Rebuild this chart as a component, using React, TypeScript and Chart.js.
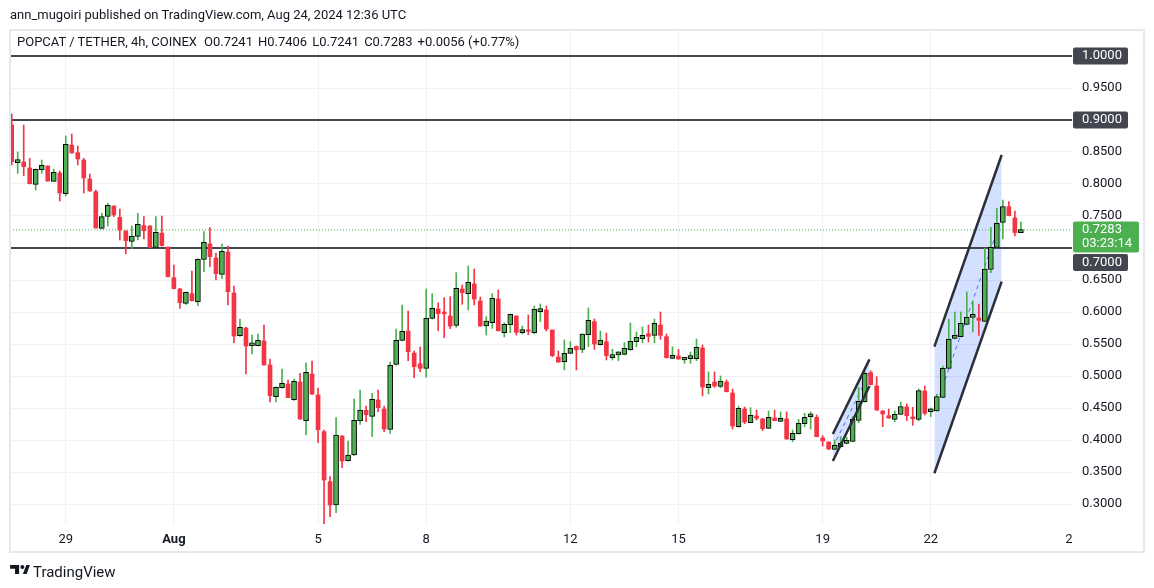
import React, { useEffect, useRef } from 'react';
import { Chart, registerables } from 'chart.js';

Chart.register(...registerables);

const FONT = 'Roboto, "Noto Sans", "Liberation Sans", sans-serif';
const TEXT = '#131722';
const GREEN = '#4caf50';
const RED = '#f23645';
const GRID = '#f0f1f4';
const LEVEL_COLOR = '#434651';

// 4h candles, index 0 = Jul 27 12:00 ... index 168 = Aug 24 12:00
const OPENS = [
  0.8922, 0.8335, 0.8344, 0.8250, 0.7995, 0.8224, 0.8281, 0.8042, 0.8172, 0.7849,
  0.8609, 0.8490, 0.8375, 0.8078, 0.7880, 0.7307, 0.7495, 0.7656, 0.7479, 0.7266,
  0.7104, 0.7182, 0.7350, 0.7344, 0.7010, 0.7234, 0.7016, 0.6536, 0.6360, 0.6135,
  0.6286, 0.6161, 0.6823, 0.7063, 0.6844, 0.6589, 0.6938, 0.6297, 0.5630, 0.5750,
  0.5472, 0.5474, 0.5547, 0.5172, 0.4677, 0.4818, 0.4875, 0.4630, 0.4906, 0.4302,
  0.5031, 0.4703, 0.4130, 0.3349, 0.2984, 0.4063, 0.3677, 0.3766, 0.4297, 0.4464,
  0.4370, 0.4625, 0.4484, 0.4167, 0.5182, 0.5557, 0.5703, 0.5359, 0.5190, 0.5120,
  0.5901, 0.6047, 0.6000, 0.5938, 0.5792, 0.6359, 0.6287, 0.6438, 0.6172, 0.5781,
  0.5833, 0.6203, 0.5677, 0.5802, 0.5938, 0.5677, 0.5720, 0.5677, 0.6005, 0.6031,
  0.5719, 0.5297, 0.5224, 0.5354, 0.5460, 0.5417, 0.5646, 0.5850, 0.5490, 0.5536,
  0.5286, 0.5330, 0.5339, 0.5411, 0.5536, 0.5583, 0.5660, 0.5635, 0.5797, 0.5615,
  0.5276, 0.5313, 0.5250, 0.5271, 0.5271, 0.5438, 0.4818, 0.4906, 0.4839, 0.4906,
  0.4734, 0.4208, 0.4484, 0.4271, 0.4375, 0.4328, 0.4182, 0.4344, 0.4292, 0.4328,
  0.4005, 0.4099, 0.4255, 0.4363, 0.4354, 0.4031, 0.3969, 0.3854, 0.3896, 0.3948,
  0.3979, 0.4307, 0.4599, 0.5052, 0.4844, 0.4453, 0.4380, 0.4323, 0.4401, 0.4516,
  0.4360, 0.4323, 0.4766, 0.4441, 0.4453, 0.4667, 0.5120, 0.5589, 0.5615, 0.5807,
  0.5915, 0.5906, 0.5854, 0.6667, 0.7010, 0.7401, 0.7646, 0.7469, 0.7241,
];
const HIGHS = [
  0.9094, 0.8500, 0.8922, 0.8401, 0.8235, 0.8375, 0.8286, 0.8234, 0.8203, 0.8750,
  0.8781, 0.8594, 0.8401, 0.8156, 0.7906, 0.7542, 0.7698, 0.7660, 0.7609, 0.7270,
  0.7344, 0.7542, 0.7490, 0.7350, 0.7490, 0.7500, 0.7016, 0.6734, 0.6370, 0.6310,
  0.6641, 0.6830, 0.7255, 0.7320, 0.6922, 0.7063, 0.7031, 0.6406, 0.5890, 0.5760,
  0.5640, 0.5656, 0.5797, 0.5266, 0.4830, 0.5110, 0.4937, 0.4953, 0.5042, 0.5203,
  0.5234, 0.4813, 0.4156, 0.3427, 0.4349, 0.4070, 0.3984, 0.4640, 0.4781, 0.4531,
  0.4730, 0.4781, 0.4531, 0.5219, 0.5734, 0.6109, 0.6016, 0.5390, 0.5453, 0.6359,
  0.6286, 0.6146, 0.6224, 0.6240, 0.6615, 0.6422, 0.6720, 0.6672, 0.6234, 0.5927,
  0.6286, 0.6344, 0.5833, 0.5970, 0.5940, 0.5781, 0.5953, 0.6094, 0.6125, 0.6094,
  0.5720, 0.5390, 0.5563, 0.5536, 0.5469, 0.5660, 0.6063, 0.5891, 0.5703, 0.5672,
  0.5417, 0.5380, 0.5520, 0.5828, 0.5688, 0.5766, 0.5797, 0.5891, 0.6000, 0.5656,
  0.5458, 0.5417, 0.5290, 0.5375, 0.5578, 0.5484, 0.5063, 0.5063, 0.5000, 0.4938,
  0.4797, 0.4531, 0.4516, 0.4505, 0.4469, 0.4340, 0.4453, 0.4469, 0.4438, 0.4438,
  0.4156, 0.4323, 0.4417, 0.4438, 0.4391, 0.4068, 0.3970, 0.4000, 0.4052, 0.4042,
  0.4365, 0.4820, 0.5070, 0.5083, 0.4990, 0.4460, 0.4484, 0.4453, 0.4594, 0.4563,
  0.4510, 0.4800, 0.4844, 0.4500, 0.4714, 0.5156, 0.5885, 0.6000, 0.6000, 0.6313,
  0.6172, 0.6125, 0.6995, 0.7323, 0.7620, 0.7750, 0.7724, 0.7578, 0.7406,
];
const LOWS = [
  0.8297, 0.8167, 0.8130, 0.8000, 0.7906, 0.8167, 0.8042, 0.8040, 0.7734, 0.7813,
  0.8484, 0.8297, 0.7859, 0.7885, 0.7310, 0.7300, 0.7344, 0.7490, 0.7125, 0.6906,
  0.6990, 0.7125, 0.7140, 0.7000, 0.7000, 0.7030, 0.6550, 0.6360, 0.6057, 0.6120,
  0.6170, 0.6099, 0.6630, 0.6708, 0.6500, 0.6521, 0.6109, 0.5521, 0.5620, 0.5031,
  0.5344, 0.5470, 0.5170, 0.4594, 0.4594, 0.4810, 0.4660, 0.4620, 0.4320, 0.4078,
  0.4710, 0.3958, 0.2672, 0.2802, 0.2865, 0.3568, 0.3670, 0.3760, 0.4245, 0.4286,
  0.4052, 0.4443, 0.4130, 0.4104, 0.5170, 0.5550, 0.5240, 0.4974, 0.5068, 0.4980,
  0.5890, 0.5708, 0.5599, 0.5740, 0.5760, 0.6120, 0.6031, 0.6110, 0.5780, 0.5641,
  0.5745, 0.5700, 0.5610, 0.5677, 0.5641, 0.5656, 0.5646, 0.5660, 0.5850, 0.5703,
  0.5300, 0.5210, 0.5094, 0.5350, 0.5094, 0.5365, 0.5458, 0.5417, 0.5480, 0.5250,
  0.5250, 0.5240, 0.5330, 0.5400, 0.5458, 0.5520, 0.5531, 0.5520, 0.5573, 0.5280,
  0.5270, 0.5260, 0.5198, 0.5198, 0.5240, 0.4688, 0.4719, 0.4823, 0.4818, 0.4750,
  0.4172, 0.4200, 0.4255, 0.4270, 0.4313, 0.4146, 0.4180, 0.4300, 0.4290, 0.4010,
  0.3974, 0.4090, 0.4208, 0.4172, 0.4050, 0.3906, 0.3850, 0.3850, 0.3890, 0.3940,
  0.3970, 0.4271, 0.4590, 0.4860, 0.4460, 0.4208, 0.4340, 0.4286, 0.4400, 0.4302,
  0.4229, 0.4300, 0.4391, 0.4365, 0.4450, 0.4660, 0.5110, 0.5580, 0.5610, 0.5800,
  0.5688, 0.5635, 0.5850, 0.6615, 0.7000, 0.7141, 0.7500, 0.7188, 0.7241,
];
const CLOSES = [
  0.8349, 0.8340, 0.8271, 0.8005, 0.8229, 0.8292, 0.8047, 0.8182, 0.7859, 0.8620,
  0.8484, 0.8391, 0.8094, 0.7891, 0.7313, 0.7490, 0.7667, 0.7516, 0.7281, 0.7115,
  0.7188, 0.7370, 0.7270, 0.7010, 0.7245, 0.7036, 0.6552, 0.6365, 0.6146, 0.6307,
  0.6177, 0.6823, 0.7089, 0.6865, 0.6600, 0.6948, 0.6318, 0.5625, 0.5760, 0.5469,
  0.5476, 0.5557, 0.5172, 0.4693, 0.4823, 0.4885, 0.4661, 0.4917, 0.4328, 0.5057,
  0.4719, 0.4160, 0.3375, 0.2984, 0.4078, 0.3672, 0.3766, 0.4307, 0.4469, 0.4396,
  0.4636, 0.4505, 0.4172, 0.5167, 0.5557, 0.5698, 0.5380, 0.5146, 0.5120, 0.5901,
  0.6057, 0.5974, 0.5970, 0.5781, 0.6370, 0.6302, 0.6464, 0.6203, 0.5781, 0.5860,
  0.6214, 0.5708, 0.5807, 0.5964, 0.5682, 0.5714, 0.5700, 0.6042, 0.6042, 0.5734,
  0.5318, 0.5219, 0.5354, 0.5432, 0.5410, 0.5656, 0.5870, 0.5500, 0.5563, 0.5318,
  0.5328, 0.5340, 0.5432, 0.5542, 0.5604, 0.5635, 0.5620, 0.5823, 0.5635, 0.5286,
  0.5323, 0.5266, 0.5252, 0.5276, 0.5448, 0.4828, 0.4870, 0.4844, 0.4922, 0.4755,
  0.4219, 0.4495, 0.4281, 0.4385, 0.4339, 0.4177, 0.4354, 0.4302, 0.4339, 0.4016,
  0.4104, 0.4260, 0.4354, 0.4367, 0.4052, 0.3984, 0.3859, 0.3917, 0.3948, 0.3984,
  0.4323, 0.4604, 0.5042, 0.4865, 0.4469, 0.4406, 0.4344, 0.4401, 0.4521, 0.4380,
  0.4333, 0.4771, 0.4417, 0.4445, 0.4677, 0.5120, 0.5573, 0.5615, 0.5823, 0.5917,
  0.5919, 0.5870, 0.6672, 0.7010, 0.7385, 0.7646, 0.7505, 0.7241, 0.7283,
];

// time axis (candle index of each date tick)
const X_TICKS = [9, 27, 51, 69, 93, 111, 135, 153, 176];
const X_LABELS = ['29', 'Aug', '5', '8', '12', '15', '19', '22', '2'];
const X_MIN = -0.283;
const X_MAX = 176.51;

// price axis
const Y_TICKS = [0.3, 0.35, 0.4, 0.45, 0.5, 0.55, 0.6, 0.65, 0.7, 0.75, 0.8, 0.85, 0.9, 0.95, 1.0];
const Y_MIN = 0.26875;
const Y_MAX = 1.0390625;

// horizontal levels drawn on the chart
const LEVELS = [1.0, 0.9, 0.7];
const LAST_PRICE = 0.7283;
const COUNTDOWN = '03:23:14';

// legend values
const LEGEND_TITLE = 'POPCAT / TETHER, 4h, COINEX';
const LEGEND_VALUES = ['O0.7241', 'H0.7406', 'L0.7241', 'C0.7283', '+0.0056 (+0.77%)'];

// parallel channels: [candle index, price]
const SMALL_TOP = [[136.7, 0.4094], [142.8, 0.526]];
const SMALL_BOTTOM = [[136.7, 0.3672], [142.8, 0.4844]];
const SMALL_MID = [[136.7, 0.3883], [142.8, 0.5052]];
const BIG_TOP = [[153.6, 0.5458], [164.8, 0.8453]];
const BIG_BOTTOM = [[153.6, 0.348], [164.8, 0.6474]];
const BIG_MID = [[153.6, 0.4469], [164.8, 0.7464]];

const pts = (arr: number[][]) => arr.map(([x, y]) => ({ x, y }));

const overlayPlugin = {
  id: 'overlay',
  afterDraw(chart: any) {
    const { ctx, chartArea } = chart;
    const y = chart.scales.y;
    const x = chart.scales.x;
    ctx.save();
    // frame
    ctx.strokeStyle = '#e6e8ee';
    ctx.lineWidth = 2;
    ctx.strokeRect(chartArea.left, chartArea.top - 1, y.right - chartArea.left, x.bottom - chartArea.top + 1);

    ctx.font = `13px ${FONT}`;
    ctx.textBaseline = 'middle';
    ctx.textAlign = 'left';
    const bx = chartArea.right + 1;
    const tx = chartArea.right + 10;

    // last price box
    const py = y.getPixelForValue(LAST_PRICE);
    const pTop = py - 8.5;
    const pBot = py + 22.5;
    ctx.fillStyle = GREEN;
    ctx.beginPath();
    ctx.roundRect(bx, pTop, 66, pBot - pTop, 2);
    ctx.fill();
    ctx.fillStyle = '#ffffff';
    ctx.fillText(LAST_PRICE.toFixed(4), tx, py);
    ctx.fillText(COUNTDOWN, tx, py + 14);

    // level boxes
    LEVELS.forEach((v) => {
      const cy = y.getPixelForValue(v);
      let top = cy - 8.5;
      if (top < pBot && top + 17 > pTop) {
        top = cy > py ? pBot + 1.5 : pTop - 18.5;
      }
      ctx.fillStyle = LEVEL_COLOR;
      ctx.beginPath();
      ctx.roundRect(bx, top, 55, 17, 2);
      ctx.fill();
      ctx.fillStyle = '#ffffff';
      ctx.fillText(v.toFixed(4), tx, top + 8.5);
    });
    ctx.restore();
  },
};

export default function App() {
  const ref = useRef<HTMLCanvasElement>(null);

  useEffect(() => {
    const canvas = ref.current;
    if (!canvas) return;
    const idx = OPENS.map((_, i) => i);
    const isUp = (i: number) => CLOSES[i] >= OPENS[i];
    const upIdx = idx.filter(isUp);
    const dnIdx = idx.filter((i) => !isUp(i));
    const wick = (list: number[]) => list.map((i) => ({ x: i, y: [LOWS[i], HIGHS[i]] }));
    const body = (list: number[]) =>
      list.map((i) => ({ x: i, y: [Math.min(OPENS[i], CLOSES[i]), Math.max(OPENS[i], CLOSES[i])] }));

    const hline = (v: number) => [{ x: X_MIN, y: v }, { x: X_MAX, y: v }];
    const lineBase = { type: 'line', pointRadius: 0, tension: 0, fill: false };

    const datasets: any[] = [
      // channel fills
      { ...lineBase, data: pts(SMALL_TOP), borderColor: 'transparent', order: 10 },
      { ...lineBase, data: pts(SMALL_BOTTOM), borderColor: 'transparent', fill: '-1', backgroundColor: 'rgba(41,98,255,0.2)', order: 10 },
      { ...lineBase, data: pts(BIG_TOP), borderColor: 'transparent', order: 10 },
      { ...lineBase, data: pts(BIG_BOTTOM), borderColor: 'transparent', fill: '-1', backgroundColor: 'rgba(41,98,255,0.2)', order: 10 },
      // middle dashed lines
      { ...lineBase, data: pts(SMALL_MID), borderColor: 'rgba(41,98,255,0.85)', borderWidth: 1, borderDash: [4, 4], order: 9 },
      { ...lineBase, data: pts(BIG_MID), borderColor: 'rgba(41,98,255,0.85)', borderWidth: 1, borderDash: [4, 4], order: 9 },
      // levels + last price
      ...LEVELS.map((v) => ({ ...lineBase, data: hline(v), borderColor: LEVEL_COLOR, borderWidth: 2, order: 8 })),
      { ...lineBase, data: hline(LAST_PRICE), borderColor: GREEN, borderWidth: 1, borderDash: [1, 2], order: 8 },
      // candles
      { type: 'bar', data: wick(upIdx), backgroundColor: GREEN, barThickness: 1, grouped: false, order: 5 },
      { type: 'bar', data: wick(dnIdx), backgroundColor: RED, barThickness: 1, grouped: false, order: 5 },
      {
        type: 'bar', data: body(upIdx), backgroundColor: GREEN, borderColor: '#000000', borderWidth: 1,
        borderSkipped: false, barThickness: 5, minBarLength: 3, grouped: false, order: 4,
      },
      { type: 'bar', data: body(dnIdx), backgroundColor: RED, barThickness: 4, minBarLength: 1, grouped: false, order: 4 },
      // channel borders
      { ...lineBase, data: pts(SMALL_TOP), borderColor: '#2a2e39', borderWidth: 2.5, order: 1 },
      { ...lineBase, data: pts(SMALL_BOTTOM), borderColor: '#2a2e39', borderWidth: 2.5, order: 1 },
      { ...lineBase, data: pts(BIG_TOP), borderColor: '#2a2e39', borderWidth: 2.5, order: 1 },
      { ...lineBase, data: pts(BIG_BOTTOM), borderColor: '#2a2e39', borderWidth: 2.5, order: 1 },
    ];

    const chart = new Chart(canvas, {
      type: 'bar',
      data: { datasets },
      options: {
        animation: false,
        responsive: false,
        maintainAspectRatio: false,
        events: [],
        layout: { padding: { left: 10, right: 10, top: 31, bottom: 36 } },
        plugins: { legend: { display: false }, tooltip: { enabled: false } },
        scales: {
          x: {
            type: 'linear',
            min: X_MIN,
            max: X_MAX,
            offset: false,
            grid: {
              offset: false,
              drawTicks: false,
              color: (c: any) => (c.index === X_TICKS.length - 1 ? 'rgba(0,0,0,0)' : GRID),
            },
            border: { display: false },
            afterBuildTicks: (axis: any) => {
              axis.ticks = X_TICKS.map((value) => ({ value }));
            },
            afterFit: (scale: any) => {
              scale.height = 28;
            },
            ticks: {
              autoSkip: false,
              maxRotation: 0,
              padding: 8,
              color: TEXT,
              font: (c: any) => ({
                family: FONT,
                size: 13,
                weight: c.tick && c.tick.label === 'Aug' ? 'bold' : 'normal',
              }),
              callback: (_v: any, i: number) => X_LABELS[i],
            },
          },
          y: {
            type: 'linear',
            position: 'right',
            min: Y_MIN,
            max: Y_MAX,
            grid: { drawTicks: false, color: GRID },
            border: { display: false },
            afterBuildTicks: (axis: any) => {
              axis.ticks = Y_TICKS.map((value) => ({ value }));
            },
            afterFit: (scale: any) => {
              scale.width = 72;
            },
            ticks: {
              padding: 10,
              color: TEXT,
              font: { family: FONT, size: 13 },
              callback: (v: any) => (LEVELS.includes(v) ? '' : Number(v).toFixed(4)),
            },
          },
        },
      } as any,
      plugins: [overlayPlugin],
    } as any);
    return () => chart.destroy();
  }, []);

  const abs = (left: number, top: number, extra: any = {}) => ({
    position: 'absolute' as const, left, top, whiteSpace: 'nowrap' as const, lineHeight: '16px', ...extra,
  });

  return (
    <div style={{ position: 'absolute', left: 0, top: 0, width: 1154, height: 588, background: '#ffffff', overflow: 'hidden', fontFamily: FONT, fontSize: 13, color: TEXT }}>
      <canvas ref={ref} width={1154} height={588} style={{ position: 'absolute', left: 0, top: 0, width: 1154, height: 588 }} />
      <div style={abs(10, 7)}>ann_mugoiri published on TradingView.com, Aug 24, 2024 12:36 UTC</div>
      <div style={abs(17, 34)}>
        <span>{LEGEND_TITLE}</span>
        {LEGEND_VALUES.map((v, i) => (
          <span key={i} style={{ marginLeft: i === 0 ? 7 : 5 }}>{v}</span>
        ))}
      </div>
      <svg style={{ position: 'absolute', left: 10, top: 565 }} width="20" height="9" viewBox="0 0 22 10">
        <path d="M0 0 H10 V10 H5.5 V4.2 H0 Z" fill={TEXT} />
        <circle cx="13.6" cy="2.2" r="2.2" fill={TEXT} />
        <path d="M14.2 10 L18 0 H22 L18.4 10 Z" fill={TEXT} />
      </svg>
      <div style={abs(33, 563, { fontSize: 15, lineHeight: '18px' })}>TradingView</div>
    </div>
  );
}
